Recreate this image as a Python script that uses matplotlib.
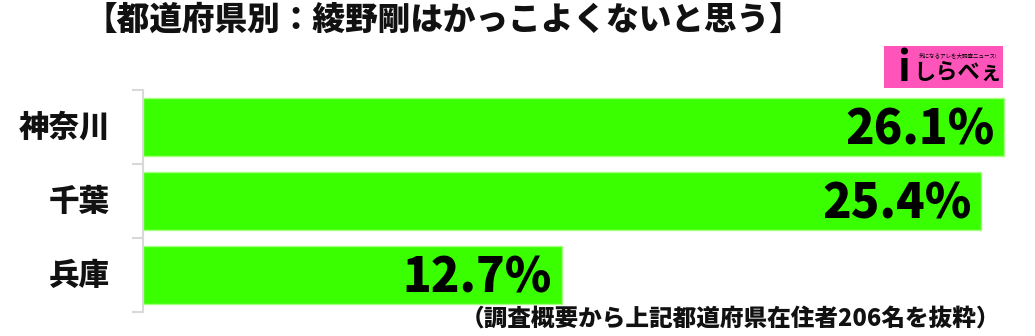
import matplotlib.pyplot as plt
from matplotlib.patches import Rectangle

plt.rcParams['font.family'] = ['Noto Sans CJK JP', 'DejaVu Sans']

prefs = ["神奈川", "千葉", "兵庫"]
values = [26.1, 25.4, 12.7]
title = "【都道府県別：綾野剛はかっこよくないと思う】"
note = "（調査概要から上記都道府県在住者206名を抜粋）"

fig = plt.figure(figsize=(10.35, 3.36), dpi=100)
ax = fig.add_axes([143 / 1035, 1 - 312 / 336, 892 / 1035, 222 / 336])

ypos = list(range(len(prefs)))
ax.barh(ypos, values, height=0.78, color="#39ff00", edgecolor="#a6ff80", linewidth=1)
ax.set_xlim(0, 892 / 33.0)
ax.set_ylim(len(prefs) - 0.5, -0.5)

for y, v in zip(ypos, values):
    ax.text(v - 0.3, y + 0.04, f"{v}%", ha="right", va="center",
            fontsize=34, fontweight="black", color="black")

ax.set_yticks([y - 0.5 for y in range(len(prefs) + 1)])
ax.set_yticklabels([])
ax.tick_params(axis="y", length=8, width=1.5, color="#d9d9d9")
ax.set_xticks([])
for s in ["top", "right", "bottom"]:
    ax.spines[s].set_visible(False)
ax.spines["left"].set_color("#d9d9d9")
ax.spines["left"].set_linewidth(1.5)

for y, name in zip(ypos, prefs):
    ax.text(-1.0, y, name, ha="right", va="center", fontsize=22,
            fontweight="black", color="#111111")

fig.text(443 / 1035, 1 - 20 / 336, title, ha="center", va="center",
         fontsize=23.5, fontweight="black", color="#111111")
fig.text(1000 / 1035, 1 - 318 / 336, note, ha="right", va="center",
         fontsize=17, fontweight="black", color="#111111")

# logo
fig.patches.append(Rectangle((884 / 1035, 1 - 88 / 336), 119 / 1035, 42 / 336,
                             transform=fig.transFigure, facecolor="#ff55bb",
                             edgecolor="none"))
fig.text(904 / 1035, 1 - 69 / 336, "i", ha="center", va="center",
         fontsize=30, fontweight="bold", fontstyle="italic", color="black")
fig.text(958 / 1035, 1 - 72 / 336, "しらべぇ", ha="center", va="center",
         fontsize=16, fontweight="bold", color="black")
fig.text(958 / 1035, 1 - 55 / 336, "気になるアレを大調査ニュース!", ha="center",
         va="center", fontsize=4, color="black")

fig.savefig("out.png", dpi=100)
